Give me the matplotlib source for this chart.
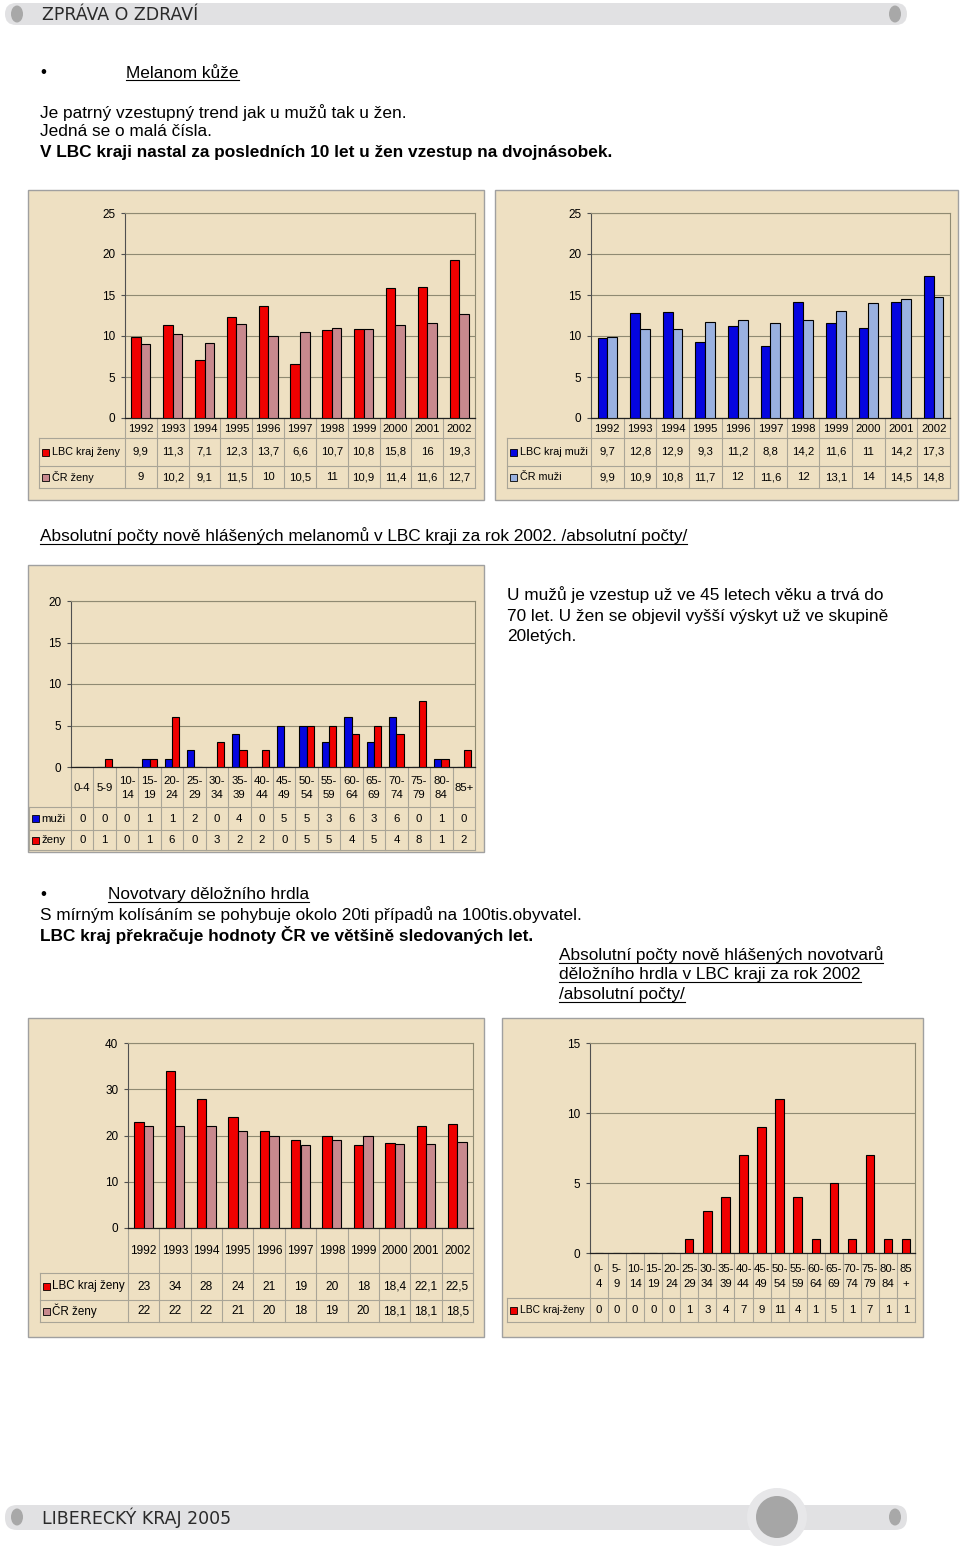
import numpy as np
import matplotlib
matplotlib.use('Agg')
import matplotlib.pyplot as plt
from matplotlib.patches import Rectangle, FancyBboxPatch, Ellipse

# ---------------- data ----------------
years = ['1992', '1993', '1994', '1995', '1996', '1997', '1998', '1999', '2000', '2001', '2002']
melanom_lbc_zeny = [9.9, 11.3, 7.1, 12.3, 13.7, 6.6, 10.7, 10.8, 15.8, 16, 19.3]
melanom_cr_zeny = [9, 10.2, 9.1, 11.5, 10, 10.5, 11, 10.9, 11.4, 11.6, 12.7]
melanom_lbc_muzi = [9.7, 12.8, 12.9, 9.3, 11.2, 8.8, 14.2, 11.6, 11, 14.2, 17.3]
melanom_cr_muzi = [9.9, 10.9, 10.8, 11.7, 12, 11.6, 12, 13.1, 14, 14.5, 14.8]

age_labels_melanom = ['0-4', '5-9', '10-\n14', '15-\n19', '20-\n24', '25-\n29', '30-\n34', '35-\n39',
                      '40-\n44', '45-\n49', '50-\n54', '55-\n59', '60-\n64', '65-\n69', '70-\n74',
                      '75-\n79', '80-\n84', '85+']
melanom_muzi_2002 = [0, 0, 0, 1, 1, 2, 0, 4, 0, 5, 5, 3, 6, 3, 6, 0, 1, 0]
melanom_zeny_2002 = [0, 1, 0, 1, 6, 0, 3, 2, 2, 0, 5, 5, 4, 5, 4, 8, 1, 2]

cervix_lbc_zeny = [23, 34, 28, 24, 21, 19, 20, 18, 18.4, 22.1, 22.5]
cervix_cr_zeny = [22, 22, 22, 21, 20, 18, 19, 20, 18.1, 18.1, 18.5]

age_labels_cervix = ['0-\n4', '5-\n9', '10-\n14', '15-\n19', '20-\n24', '25-\n29', '30-\n34', '35-\n39',
                     '40-\n44', '45-\n49', '50-\n54', '55-\n59', '60-\n64', '65-\n69', '70-\n74',
                     '75-\n79', '80-\n84', '85\n+']
cervix_lbc_2002 = [0, 0, 0, 0, 0, 1, 3, 4, 7, 9, 11, 4, 1, 5, 1, 7, 1, 1]

# ---------------- style ----------------
W, H = 960, 1551
plt.rcParams['font.family'] = ['Liberation Sans', 'DejaVu Sans']
TFONT = ['Liberation Sans', 'DejaVu Sans']
PANEL = '#EEE0C2'
GRID = '#8F8A72'
TLINE = '#A9A597'
RED = '#F00000'
MAUVE = '#C8898E'
BLUE = '#0505E0'
LBLUE = '#9AB1E0'
BODY_FS = 12.4

fig = plt.figure(figsize=(W / 100, H / 100), dpi=100)
fig.patch.set_facecolor('white')
bg = fig.add_axes([0, 0, 1, 1])
bg.set_xlim(0, W)
bg.set_ylim(H, 0)
bg.axis('off')
renderer = fig.canvas.get_renderer()


def frac(x0, y0, x1, y1):
    return [x0 / W, 1 - y1 / H, (x1 - x0) / W, (y1 - y0) / H]


def fmt(v):
    return ('%g' % v).replace('.', ',')


def panel(x0, y0, x1, y1):
    bg.add_patch(Rectangle((x0, y0), x1 - x0, y1 - y0, facecolor=PANEL,
                           edgecolor='#A0A0A0', lw=1.0, zorder=1))


def text(x, y, s, underline=False, **kw):
    kw.setdefault('fontsize', BODY_FS)
    t = bg.text(x, y, s, va='center', ha='left', zorder=5, **kw)
    if underline:
        bb = t.get_window_extent(renderer)
        yl = H - bb.y0 - 0.5
        bg.plot([bb.x0, bb.x1], [yl, yl], color='black', lw=0.8, zorder=5)
    return t


def bar_chart(plot, ymax, ystep, cat_labels, series, colors, names, width, tleft, rows,
              fs_cat=8.2, fs_val=8.2, fs_leg=7.8, cat_lsp=1.5, fs_tick=8.5):
    L, T, R, B = plot
    ax = fig.add_axes(frac(L, T, R, B))
    ax.set_facecolor('none')
    ax.set_zorder(3)
    n = len(cat_labels)
    x = np.arange(n)
    k = len(series)
    for j, vals in enumerate(series):
        off = (j - (k - 1) / 2) * width
        ax.bar(x + off, vals, width, color=colors[j], edgecolor='black', linewidth=0.8, zorder=3)
    ax.set_xlim(-0.5, n - 0.5)
    ax.set_ylim(0, ymax)
    ticks = np.arange(0, ymax + 1e-9, ystep)
    ax.set_yticks(ticks)
    ax.set_yticklabels(['%d' % t for t in ticks], fontsize=fs_tick)
    ax.set_xticks([])
    ax.grid(axis='y', color=GRID, lw=0.8)
    ax.set_axisbelow(True)
    for s in ['top', 'right']:
        ax.spines[s].set_color(GRID)
        ax.spines[s].set_linewidth(0.8)
    ax.spines['left'].set_color('#505050')
    ax.spines['left'].set_linewidth(0.8)
    ax.spines['bottom'].set_color('#202020')
    ax.spines['bottom'].set_linewidth(0.9)
    ax.tick_params(axis='y', length=3, width=0.8, pad=4, colors='black', color='#505050')

    cw = (R - L) / n
    bottom = rows[-1]
    for i in range(n + 1):
        xv = L + i * cw
        bg.plot([xv, xv], [B, bottom], color=TLINE, lw=0.8, zorder=2)
    for yv in rows[1:]:
        bg.plot([tleft, R], [yv, yv], color=TLINE, lw=0.8, zorder=2)
    bg.plot([tleft, tleft], [rows[1], bottom], color=TLINE, lw=0.8, zorder=2)
    for i, lab in enumerate(cat_labels):
        bg.text(L + (i + 0.5) * cw, (rows[0] + rows[1]) / 2 + 1, lab, ha='center', va='center',
                fontsize=fs_cat, family=TFONT, linespacing=cat_lsp, zorder=4)
    for j, (vals, name) in enumerate(zip(series, names)):
        yc = (rows[j + 1] + rows[j + 2]) / 2
        bg.add_patch(Rectangle((tleft + 3, yc - 3.5), 7, 7, facecolor=colors[j],
                               edgecolor='black', lw=0.6, zorder=4))
        bg.text(tleft + 12.5, yc, name, va='center', ha='left', fontsize=fs_leg,
                family=TFONT, zorder=4)
        for i, v in enumerate(vals):
            bg.text(L + (i + 0.5) * cw, yc, fmt(v), ha='center', va='center',
                    fontsize=fs_val, family=TFONT, zorder=4)
    return ax


# ---------------- header / footer ----------------
bg.add_patch(FancyBboxPatch((5, 3), 902, 22, boxstyle='round,pad=0,rounding_size=11',
                            facecolor='#E1E1E3', edgecolor='none', zorder=1))
bg.add_patch(Ellipse((17, 14), 12, 17, facecolor='#A8A8A8', edgecolor='none', zorder=2))
bg.add_patch(Ellipse((895, 14), 12, 17, facecolor='#A8A8A8', edgecolor='none', zorder=2))
bg.text(42, 14.5, 'ZPRÁVA O ZDRAVÍ', va='center', ha='left', fontsize=12.5,
        family=['DejaVu Sans'], color='#2A2A2A', zorder=3)

bg.add_patch(FancyBboxPatch((5, 1505), 902, 25, boxstyle='round,pad=0,rounding_size=12',
                            facecolor='#E1E1E3', edgecolor='none', zorder=1))
bg.add_patch(Ellipse((777, 1517), 60, 58, facecolor='#E7E7E9', edgecolor='none', zorder=2))
bg.add_patch(Ellipse((777, 1517), 42, 42, facecolor='#A6A6A6', edgecolor='none', zorder=3))
bg.add_patch(Ellipse((17, 1517), 12, 17, facecolor='#A8A8A8', edgecolor='none', zorder=2))
bg.add_patch(Ellipse((895, 1517), 12, 17, facecolor='#A8A8A8', edgecolor='none', zorder=2))
bg.text(42, 1517.5, 'LIBERECKÝ KRAJ 2005', va='center', ha='left', fontsize=12.5,
        family=['DejaVu Sans'], color='#2A2A2A', zorder=3)

# ---------------- body text ----------------
text(40, 73, '•')
text(126, 73, 'Melanom kůže', underline=True)
text(40, 113, 'Je patrný vzestupný trend jak u mužů tak u žen.')
text(40, 132, 'Jedná se o malá čísla.')
text(40, 152, 'V LBC kraji nastal za posledních 10 let u žen vzestup na dvojnásobek.', weight='bold')

text(40, 536, 'Absolutní počty nově hlášených melanomů v LBC kraji za rok 2002. /absolutní počty/',
     underline=True)
text(507, 595, 'U mužů je vzestup už ve 45 letech věku a trvá do')
text(507, 616, '70 let. U žen se objevil vyšší výskyt už ve skupině')
text(507, 636, '20letých.')

text(40, 895, '•')
text(108, 895, 'Novotvary děložního hrdla', underline=True)
text(40, 915, 'S mírným kolísáním se pohybuje okolo 20ti případů na 100tis.obyvatel.')
text(40, 935, 'LBC kraj překračuje hodnoty ČR ve většině sledovaných let.', weight='bold')
text(559, 955, 'Absolutní počty nově hlášených novotvarů', underline=True)
text(559, 975, 'děložního hrdla v LBC kraji za rok 2002', underline=True)
text(559, 995, '/absolutní počty/', underline=True)

# ---------------- charts ----------------
panel(28, 190, 484, 500)
bar_chart((125, 213, 475, 418), 25, 5, years, [melanom_lbc_zeny, melanom_cr_zeny],
          [RED, MAUVE], ['LBC kraj ženy', 'ČR ženy'], 0.3, 39, [418, 438, 466, 488])

panel(495, 190, 958, 500)
bar_chart((591, 213, 950, 418), 25, 5, years, [melanom_lbc_muzi, melanom_cr_muzi],
          [BLUE, LBLUE], ['LBC kraj muži', 'ČR muži'], 0.3, 507, [418, 438, 466, 488])

panel(28, 565, 484, 852)
bar_chart((71, 601, 475, 767), 20, 5, age_labels_melanom, [melanom_muzi_2002, melanom_zeny_2002],
          [BLUE, RED], ['muži', 'ženy'], 0.32, 29, [767, 807, 830, 850], cat_lsp=1.45,
          fs_leg=8.2)

panel(28, 1018, 484, 1337)
bar_chart((128, 1043, 473, 1228), 40, 10, years, [cervix_lbc_zeny, cervix_cr_zeny],
          [RED, MAUVE], ['LBC kraj ženy', 'ČR ženy'], 0.3, 40, [1228, 1273, 1300, 1322],
          fs_val=8.6, fs_cat=8.6, fs_leg=8.4)

panel(502, 1018, 923, 1337)
bar_chart((590, 1043, 915, 1253), 15, 5, age_labels_cervix, [cervix_lbc_2002],
          [RED], ['LBC kraj-ženy'], 0.46, 507, [1253, 1298, 1322], cat_lsp=1.65,
          fs_leg=7.4, fs_val=8.2, fs_cat=8.2)

fig.savefig('out.png', dpi=100, facecolor='white')
